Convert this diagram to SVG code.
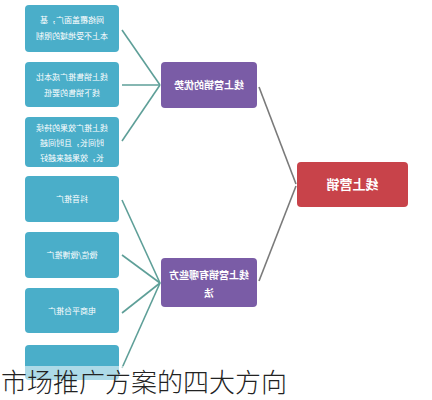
<svg xmlns="http://www.w3.org/2000/svg" width="432" height="400" viewBox="0 0 432 400">
<defs>
<style>
.leaf{fill:#4aaec9;}
.mid{fill:#7a5ca6;}
.root{fill:#c8434a;}
.t{font-family:"Noto Sans CJK SC","Noto Sans",sans-serif;fill:#ffffff;text-anchor:middle;}
.ts{font-size:8px;}
.tm{font-size:10px;font-weight:bold;}
.tr{font-size:13px;font-weight:bold;}
.c1{stroke:#5e9f98;stroke-width:1.6;fill:none;}
.c2{stroke:#7a7a7a;stroke-width:1.6;fill:none;}
.cap{font-family:"Noto Sans CJK SC","Noto Sans",sans-serif;font-size:26px;font-weight:300;fill:#222222;}
</style>
</defs>
<rect width="432" height="400" fill="#ffffff"/>
<g id="connectors">
<line class="c1" x1="122" y1="30" x2="160" y2="85"/>
<line class="c1" x1="122" y1="85" x2="160" y2="85"/>
<line class="c1" x1="122" y1="141" x2="160" y2="85"/>
<line class="c1" x1="122" y1="200" x2="160" y2="283"/>
<line class="c1" x1="122" y1="255" x2="160" y2="283"/>
<line class="c1" x1="122" y1="313" x2="160" y2="283"/>
<line class="c1" x1="122" y1="368" x2="160" y2="283"/>
<line class="c2" x1="259" y1="87" x2="296" y2="184"/>
<line class="c2" x1="259" y1="281" x2="296" y2="186"/>
</g>
<g id="leaf1"><rect class="leaf" x="25" y="5" width="94" height="47" rx="4"/>
<g transform="matrix(-1,0,0,1,144,0)"><text class="t ts" x="72" y="23">网络覆盖面广，基</text><text class="t ts" x="72" y="39">本上不受地域的限制</text></g></g>
<g id="leaf2"><rect class="leaf" x="25" y="62" width="94" height="45" rx="4"/>
<g transform="matrix(-1,0,0,1,144,0)"><text class="t ts" x="72" y="80">线上销售推广成本比</text><text class="t ts" x="72" y="96">线下销售的要低</text></g></g>
<g id="leaf3"><rect class="leaf" x="25" y="117" width="94" height="50" rx="4"/>
<g transform="matrix(-1,0,0,1,144,0)"><text class="t ts" x="72" y="131">线上推广效果的持续</text><text class="t ts" x="72" y="146">时间长，且时间越</text><text class="t ts" x="72" y="161">长，效果越来越好</text></g></g>
<g id="leaf4"><rect class="leaf" x="25" y="176" width="94" height="46" rx="4"/>
<g transform="matrix(-1,0,0,1,144,0)"><text class="t ts" x="72" y="202">抖音推广</text></g></g>
<g id="leaf5"><rect class="leaf" x="25" y="232" width="94" height="46" rx="4"/>
<g transform="matrix(-1,0,0,1,144,0)"><text class="t ts" x="72" y="258">微信/微博推广</text></g></g>
<g id="leaf6"><rect class="leaf" x="25" y="288" width="94" height="45" rx="4"/>
<g transform="matrix(-1,0,0,1,144,0)"><text class="t ts" x="72" y="314">电商平台推广</text></g></g>
<g id="leaf7"><rect class="leaf" x="25" y="345" width="94" height="35" rx="4"/></g>
<g id="mid1"><rect class="mid" x="161" y="62" width="96" height="46" rx="4"/>
<g transform="matrix(-1,0,0,1,418,0)"><text class="t tm" x="209" y="89">线上营销的优势</text></g></g>
<g id="mid2"><rect class="mid" x="161" y="258" width="96" height="49" rx="4"/>
<g transform="matrix(-1,0,0,1,418,0)"><text class="t tm" x="209" y="279">线上营销有哪些方</text><text class="t tm" x="209" y="297">法</text></g></g>
<g id="root"><rect class="root" x="297" y="162" width="111" height="45" rx="4"/>
<g transform="matrix(-1,0,0,1,705,0)"><text class="t tr" x="352.5" y="189">线上营销</text></g></g>
<rect x="0" y="366" width="300" height="34" fill="#ffffff" fill-opacity="0.55"/>
<text class="cap" x="1" y="392">市场推广方案的四大方向</text>
</svg>
